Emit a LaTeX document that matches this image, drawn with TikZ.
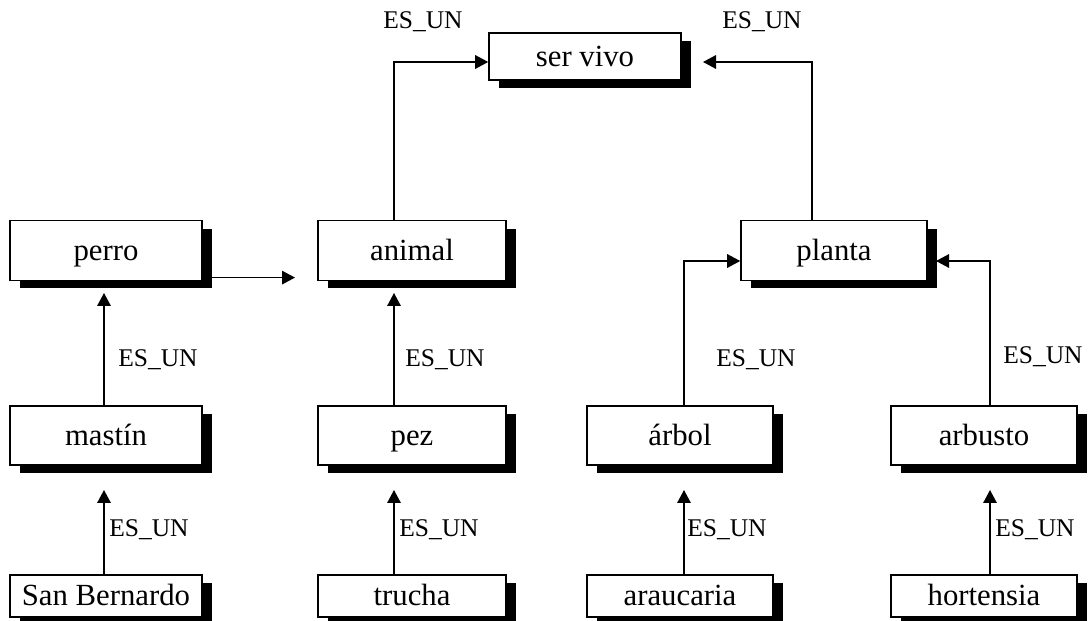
\documentclass[tikz,border=0pt]{standalone}
\usepackage{fontspec}
\setmainfont{Liberation Serif}
\usetikzlibrary{positioning, arrows.meta, shadows}

\begin{document}
\begin{tikzpicture}[
    x=0.02cm, y=-0.02cm,
    box/.style={rectangle, draw=black, line width=0.9pt, fill=white,
                minimum width=3.76cm, minimum height=1.2cm, inner sep=0pt,
                text height=13.5pt, text depth=2.5pt,
                font=\fontsize{17.5}{20}\selectfont,
                drop shadow={shadow xshift=0.2cm, shadow yshift=-0.16cm,
                             fill=black, opacity=1}},
    lbl/.style={font=\fontsize{14.5}{17}\selectfont, inner sep=0pt, anchor=west},
    arrow/.style={-{Triangle[length=0.26cm, width=0.27cm]}, line width=0.9pt}
  ]
    \useasboundingbox (0,0) rectangle (1088,621);

    \node[box, minimum width=3.84cm, minimum height=0.94cm] (servivo) at (585,56.5) {ser vivo};

    \node[box, minimum width=3.84cm] (perro)  at (106,250.5) {perro};
    \node[box] (animal) at (412,250.5) {animal};
    \node[box, minimum width=3.72cm] (planta) at (834,250.5) {planta};

    \node[box, minimum width=3.84cm, minimum height=1.18cm] (mastin) at (106,435.5) {mastín};
    \node[box, minimum height=1.18cm] (pez)     at (412,435.5) {pez};
    \node[box, minimum width=3.72cm, minimum height=1.18cm] (arbol)   at (680,435.5) {árbol};
    \node[box, minimum width=3.72cm, minimum height=1.18cm] (arbusto) at (984,435.5) {arbusto};

    \node[box, minimum width=3.84cm, minimum height=0.84cm] (sanb) at (106,596) {San Bernardo};
    \node[box, minimum height=0.84cm] (trucha)    at (412,596) {trucha};
    \node[box, minimum width=3.72cm, minimum height=0.84cm] (araucaria) at (680,596) {araucaria};
    \node[box, minimum width=3.72cm, minimum height=0.84cm] (hortensia) at (984,596) {hortensia};

    % free ends of the arrows
    \coordinate (svr)  at (703,62);
    \coordinate (anl)  at (295,277.6);
    \coordinate (ple)  at (936,261);
    \coordinate (perb) at (104,293);
    \coordinate (anb)  at (394,293);
    \coordinate (masb) at (104,490);
    \coordinate (pezb) at (394,490);
    \coordinate (arbb) at (684,490);
    \coordinate (arub) at (990,490);

    \draw[arrow] ([xshift=-0.36cm]animal.north) |- ([yshift=-0.11cm]servivo.west);
    \draw[arrow] ([xshift=-0.44cm]planta.north) |- (svr);
    \draw[arrow] (perro.east |- anl) -- (anl);
    \draw[arrow] ([xshift=0.08cm]arbol.north) |- ([yshift=-0.21cm]planta.west);
    \draw[arrow] ([xshift=0.12cm]arbusto.north) |- (ple);

    \draw[arrow] (mastin.north -| perb) -- (perb);
    \draw[arrow] (pez.north -| anb)     -- (anb);
    \draw[arrow] (sanb.north -| masb)   -- (masb);
    \draw[arrow] (trucha.north -| pezb) -- (pezb);
    \draw[arrow] (araucaria.north -| arbb) -- (arbb);
    \draw[arrow] (hortensia.north -| arub) -- (arub);

    \node[lbl] (l1)  at (383,22)   {ES\_UN};
    \node[lbl] (l2)  at (722,22)   {ES\_UN};
    \node[lbl] (l3)  at (118,360)  {ES\_UN};
    \node[lbl] (l4)  at (405,360)  {ES\_UN};
    \node[lbl] (l5)  at (716,360)  {ES\_UN};
    \node[lbl] (l6)  at (1003,357) {ES\_UN};
    \node[lbl] (l7)  at (109,530)  {ES\_UN};
    \node[lbl] (l8)  at (399,530)  {ES\_UN};
    \node[lbl] (l9)  at (687,530)  {ES\_UN};
    \node[lbl] (l10) at (995,530)  {ES\_UN};
  \end{tikzpicture}
\end{document}
